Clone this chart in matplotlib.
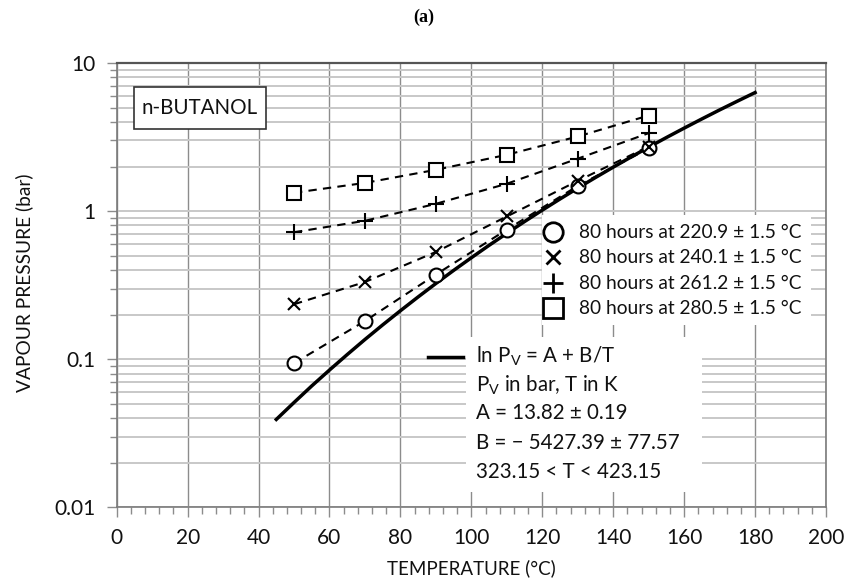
import matplotlib
matplotlib.use("Agg")
import matplotlib.pyplot as plt
from matplotlib.patches import Rectangle
from matplotlib.ticker import FixedLocator, NullFormatter, MultipleLocator, FuncFormatter

plt.rcParams['font.family'] = ['Lato', 'DejaVu Sans']
plt.rcParams['mathtext.fontset'] = 'custom'
plt.rcParams['mathtext.rm'] = 'Lato'
plt.rcParams['mathtext.it'] = 'Lato:italic'

# ---- data ----
temps = [50, 70, 90, 110, 130, 150]
p_220 = [0.094, 0.181, 0.373, 0.75, 1.48, 2.65]
p_240 = [0.235, 0.332, 0.53, 0.92, 1.60, 2.73]
p_261 = [0.72, 0.86, 1.12, 1.53, 2.26, 3.36]
p_280 = [1.33, 1.55, 1.90, 2.40, 3.19, 4.42]
series_labels = ["80 hours at 220.9 \u00b1 1.5 \u00b0C",
                 "80 hours at 240.1 \u00b1 1.5 \u00b0C",
                 "80 hours at 261.2 \u00b1 1.5 \u00b0C",
                 "80 hours at 280.5 \u00b1 1.5 \u00b0C"]

fit_t = [45, 50, 55, 60, 65, 70, 75, 80, 85, 90, 95, 100, 105, 110, 115, 120,
         125, 130, 135, 140, 145, 150, 155, 160, 165, 170, 175, 180]
fit_p = [0.0392, 0.0510, 0.0660, 0.0845, 0.1075, 0.1359, 0.1705, 0.2125,
         0.2634, 0.3246, 0.3977, 0.4844, 0.5874, 0.708, 0.850, 1.015, 1.207,
         1.430, 1.686, 1.980, 2.316, 2.702, 3.139, 3.633, 4.191, 4.821,
         5.523, 6.315]

fit_lines = ["ln P$_\\mathrm{V}$ = A + B/T",
             "P$_\\mathrm{V}$ in bar, T in K",
             "A = 13.82 \u00b1 0.19",
             "B = \u2212 5427.39 \u00b1 77.57",
             "323.15 < T < 423.15"]

xticks = [0, 20, 40, 60, 80, 100, 120, 140, 160, 180, 200]
yticks = [0.01, 0.1, 1, 10]
ytick_labels = ["0.01", "0.1", "1", "10"]

W, H = 847, 580
fig = plt.figure(figsize=(W / 100, H / 100), dpi=100)


def fx(px):
    return px / W


def fy(py):
    return 1 - py / H


ax = fig.add_axes([fx(116.7), fy(507.3), fx(826) - fx(116.7), fy(63) - fy(507.3)])
ax.set_yscale('log')
ax.set_xlim(0, 200)
ax.set_ylim(0.01, 10)
ax.set_axisbelow(True)

ax.xaxis.set_major_locator(FixedLocator(xticks))
ax.xaxis.set_minor_locator(MultipleLocator(4))
ax.yaxis.set_major_locator(FixedLocator(yticks))
minors = [m * 10.0 ** e for e in (-2, -1, 0) for m in range(2, 10)]
ax.yaxis.set_minor_locator(FixedLocator(minors))
ax.yaxis.set_minor_formatter(NullFormatter())
ax.yaxis.set_major_formatter(FuncFormatter(
    lambda v, p: ytick_labels[yticks.index(min(yticks, key=lambda t: abs(t - v)))]))
ax.set_xticklabels([str(t) for t in xticks])

ax.grid(True, which='major', axis='x', color='#8c8c8c', lw=1.0)
ax.grid(True, which='both', axis='y', color='#c8c8c8', lw=1.4)

ax.tick_params(which='major', direction='out', length=7, width=1, color='#8c8c8c',
               labelsize=15, pad=8, labelcolor='#111111')
ax.tick_params(which='minor', direction='out', length=5, width=1, color='#8c8c8c')
for s in ax.spines.values():
    s.set_color('#7a7a7a')
    s.set_linewidth(1.2)
ax.spines['top'].set_color('#555555')
ax.spines['top'].set_linewidth(1.6)

# white legend boxes covering the grid
ax.add_patch(Rectangle((fx(542), fy(325)), fx(811) - fx(542), fy(215) - fy(325),
                       transform=fig.transFigure, facecolor='white', edgecolor='none', zorder=1))
ax.add_patch(Rectangle((fx(466), fy(492)), fx(702) - fx(466), fy(337) - fy(492),
                       transform=fig.transFigure, facecolor='white', edgecolor='none', zorder=1))

# fit curve
ax.plot(fit_t, fit_p, color='black', lw=2.5, zorder=3)

series = [p_220, p_240, p_261, p_280]
markers = ['o', 'x', '+', 's']
msizes = [10, 9, 12, 10]
for vals, m, ms in zip(series, markers, msizes):
    ax.plot(temps, vals, color='black', lw=1.5, ls=(0, (4, 3)), zorder=4)
    ax.plot(temps, vals, ls='none', marker=m, ms=ms, mfc='white' if m in 'os' else 'black',
            mec='black', mew=1.5, zorder=5)

# legend 1 (manual)
rows = [232.3, 257.3, 283.3, 308.3]
for yy, m, ms, lab in zip(rows, markers, [14, 10, 14, 15], series_labels):
    fig.lines.append(plt.Line2D([fx(553.3)], [fy(yy)], transform=fig.transFigure, ls='none',
                                marker=m, ms=ms, mfc='white' if m in 'os' else 'black',
                                mec='black', mew=2.0))
    fig.text(fx(579), fy(yy), lab, fontsize=13.8, va='center', ha='left', color='#111111')

# legend 2 (manual)
fig.lines.append(plt.Line2D([fx(428), fx(463)], [fy(356.7), fy(356.7)],
                            transform=fig.transFigure, color='black', lw=2.5))
for yy, t in zip([356.7, 385, 413.3, 442.7, 471.7], fit_lines):
    fig.text(fx(476), fy(yy), t, fontsize=14.8, va='center', ha='left', color='#111111')

# label box
fig.text(fx(200), fy(108), "n-BUTANOL", fontsize=14.8, ha='center', va='center',
         color='#111111')
fig.patches.append(Rectangle((fx(134.3), fy(129)), fx(266) - fx(134.3), fy(86.7) - fy(129),
                             transform=fig.transFigure, facecolor='white',
                             edgecolor='#333333', lw=1.2, zorder=0))

fig.text(fx(471), fy(568), "TEMPERATURE (\u00b0C)", fontsize=13.5, ha='center', va='center',
         color='#111111')
fig.text(fx(24), fy(283), "VAPOUR PRESSURE (bar)", fontsize=13.8, ha='center', va='center',
         rotation=90, color='#111111')
fig.text(fx(424), fy(17), "(a)", fontsize=13, fontweight='bold', ha='center', va='center',
         family=['Liberation Serif'])

fig.savefig("out.png", dpi=100)
